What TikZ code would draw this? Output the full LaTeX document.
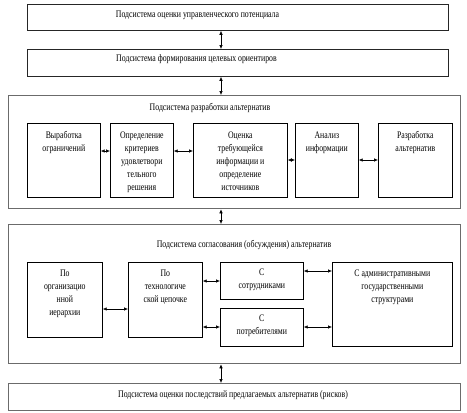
\documentclass[tikz,border=0pt]{standalone}
\usepackage{fontspec}
\setmainfont{Liberation Serif}[FakeStretch=0.78]
\usetikzlibrary{arrows.meta}
\newcommand\tb[4]{\parbox[c][#2pt][t]{#1pt}{\centering\rule{0pt}{#3pt}#4\par}}
\begin{document}
\begin{tikzpicture}[x=1pt,y=-1pt,
 outer/.style={draw=black!58, line width=1.3pt, anchor=north west, inner sep=0pt},
 topbox/.style={draw=black!85, line width=0.8pt, anchor=north west, inner sep=0pt},
 inbox/.style={draw=black, line width=0.7pt, anchor=north west, inner sep=0pt},
 lbl/.style={anchor=base, inner sep=0pt},
 dar/.style={{Latex[length=4pt,width=3.5pt]}-{Latex[length=4pt,width=3.5pt]}, line width=0.6pt},
 font=\fontsize{10}{13}\selectfont]
\useasboundingbox (0,0) rectangle (467,413);

% main boxes
\node[topbox, minimum width=421pt, minimum height=26pt] (s1) at (27,4) {};
\node[lbl] (s1t) at (197.5,17.5) {Подсистема оценки управленческого потенциала};
\node[topbox, minimum width=421pt, minimum height=27pt] (s2) at (27,49) {};
\node[lbl] (s2t) at (196.5,61.5) {Подсистема формирования целевых ориентиров};
\node[outer, minimum width=452pt, minimum height=113pt] (s3) at (8,95) {};
\node[lbl] (s3t) at (210,110.5) {Подсистема разработки альтернатив};
\node[outer, minimum width=452pt, minimum height=139pt] (s4) at (8,224) {};
\node[lbl] (s4t) at (244,247.5) {Подсистема согласования (обсуждения) альтернатив};
\node[outer, minimum width=452pt, minimum height=27pt] (s5) at (8,383) {};
\node[lbl] (s5t) at (233,397) {Подсистема оценки последствий предлагаемых альтернатив (рисков)};

% row 1
\node[inbox] (a) at (27,123) {\tb{73}{74}{15.5}{Выработка\\ограничений}};
\node[inbox] (b) at (110,123) {\tb{63}{74}{15.5}{Определение\\критериев\\удовлетвори\\тельного\\решения}};
\node[inbox] (c) at (193,123) {\tb{94}{74}{15.5}{Оценка\\требующейся\\информации и\\определение\\источников}};
\node[inbox] (d) at (295,123) {\tb{63}{74}{15.5}{Анализ\\информации}};
\node[inbox] (e) at (378,123) {\tb{74}{74}{15.5}{Разработка\\альтернатив}};

% row 2
\node[inbox] (f) at (27,262) {\tb{75}{75}{14.5}{По\\организацио\\нной\\иерархии}};
\node[inbox] (g) at (128,262) {\tb{74}{75}{14.5}{По\\технологиче\\ской цепочке}};
\node[inbox] (h) at (220,262) {\tb{83}{37}{13.5}{С\\сотрудниками}};
\node[inbox] (i) at (220,308) {\tb{83}{38}{13.5}{С\\потребителями}};
\node[inbox] (j) at (332,262) {\tb{120}{84}{14.5}{С административными\\государственными\\структурами}};

% vertical connectors
\draw[dar] (s1.south -| 221,0) -- (s2.north -| 221,0);
\draw[dar] (s2.south -| 221,0) -- (s3.north -| 221,0);
\draw[dar] (s3.south -| 221,0) -- (s4.north -| 221,0);
\draw[dar] (s4.south -| 221,0) -- (s5.north -| 221,0);

% row 1 connectors
\draw[dar] (a.east |- 0,151) -- (b.west |- 0,151);
\draw[dar] (b.east |- 0,151) -- (c.west |- 0,151);
\draw[dar] (c.east |- 0,160) -- (d.west |- 0,160);
\draw[dar] (d.east |- 0,160) -- (e.west |- 0,160);

% row 2 connectors
\draw[dar] (f.east |- 0,309) -- (g.west |- 0,309);
\draw[dar] (g.east |- 0,281) -- (h.west |- 0,281);
\draw[dar] (g.east |- 0,327) -- (i.west |- 0,327);
\draw[dar] (h.east |- 0,271) -- (j.west |- 0,271);
\draw[dar] (i.east |- 0,327) -- (j.west |- 0,327);
\end{tikzpicture}
\end{document}
